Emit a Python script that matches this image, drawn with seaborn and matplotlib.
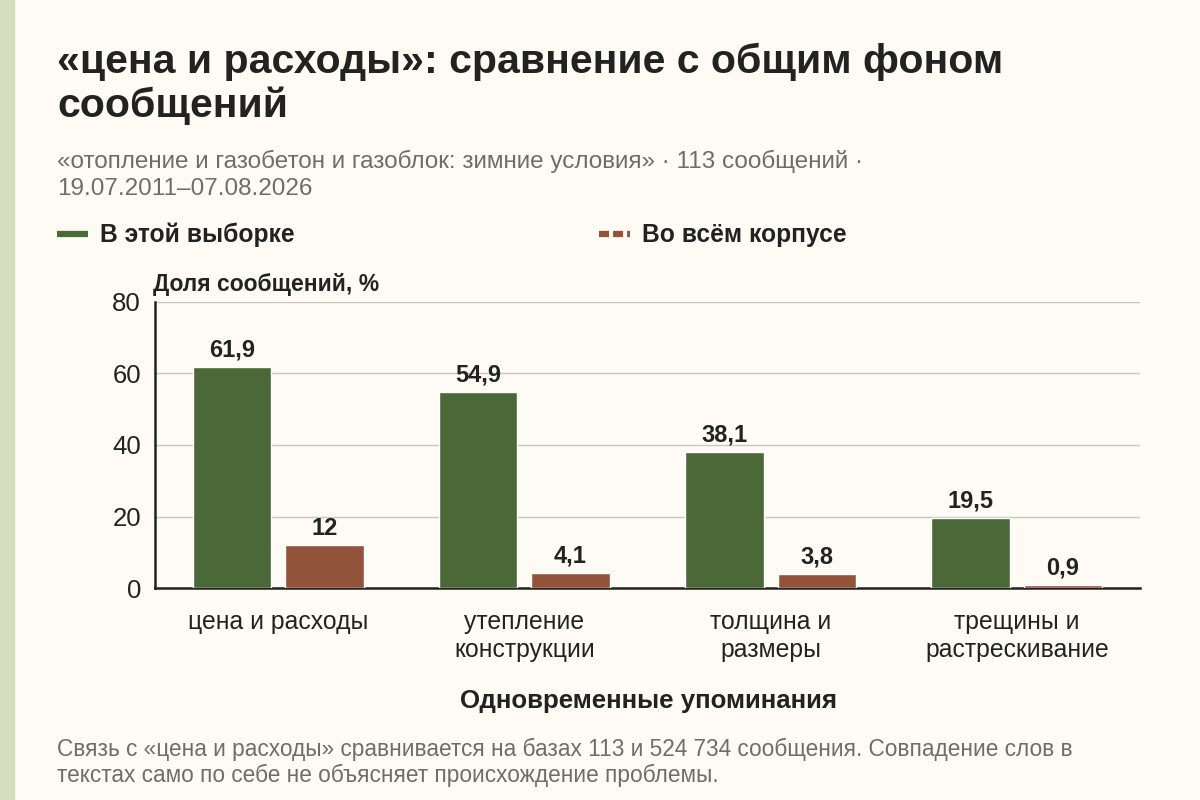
import matplotlib
matplotlib.use("Agg")
import matplotlib.pyplot as plt
import seaborn as sns
import pandas as pd
from matplotlib.lines import Line2D
from matplotlib.patches import Rectangle

# ---- data ----
categories = ["цена и расходы", "утепление\nконструкции", "толщина и\nразмеры", "трещины и\nрастрескивание"]
series_names = ["В этой выборке", "Во всём корпусе"]
sample_values = [61.9, 54.9, 38.1, 19.5]
corpus_values = [12.0, 4.1, 3.8, 0.9]
y_ticks = [0, 20, 40, 60, 80]

title = "«цена и расходы»: сравнение с общим фоном\nсообщений"
subtitle = "«отопление и газобетон и газоблок: зимние условия» · 113 сообщений ·\n19.07.2011–07.08.2026"
y_title = "Доля сообщений, %"
x_title = "Одновременные упоминания"
footer = ("Связь с «цена и расходы» сравнивается на базах 113 и 524 734 сообщения. Совпадение слов в\n"
          "текстах само по себе не объясняет происхождение проблемы.")

GREEN = "#4b6839"
BROWN = "#93523a"
BG = "#fdfbf3"
STRIP = "#d5dfc0"
DARK = "#222222"
GRAY = "#6e6e68"

df = pd.DataFrame({
    "cat": categories * 2,
    "series": [series_names[0]] * 4 + [series_names[1]] * 4,
    "val": sample_values + corpus_values,
})

sns.set_theme(style="white")
plt.rcParams["font.family"] = ["Liberation Sans", "DejaVu Sans"]

fig = plt.figure(figsize=(12, 8), dpi=100, facecolor=BG)
ax = fig.add_axes([155/1200, 1-588/800, (1140-155)/1200, (588-302)/800])
ax.set_facecolor(BG)

# left strip
fig.add_artist(Rectangle((0, 0), 14/1200, 1, transform=fig.transFigure, color=STRIP, zorder=0))

sns.barplot(data=df, x="cat", y="val", hue="series", order=categories,
            hue_order=series_names, palette=[GREEN, BROWN], width=0.75, gap=0.15,
            saturation=1, legend=False, ax=ax, zorder=3)

def fmt(v):
    s = f"{v:.1f}"
    if s.endswith(".0"):
        s = s[:-2]
    return s.replace(".", ",")

for cont in ax.containers:
    ax.bar_label(cont, labels=[fmt(b.get_height()) for b in cont], padding=4,
                 fontsize=17, fontweight="bold", color=DARK)

ax.set_ylim(0, 80)
ax.set_xlim(-0.5, 3.5)
ax.set_yticks(y_ticks)
ax.set_yticklabels([str(t) for t in y_ticks], fontsize=18.5, color=DARK)
ax.yaxis.grid(True, color="#c8c8c0", linewidth=1, zorder=0)
ax.set_axisbelow(True)
ax.tick_params(axis="y", length=0, pad=10)
ax.tick_params(axis="x", length=5, width=1, color=DARK, direction="out", pad=11,
               labelsize=17.8, labelcolor=DARK)
plt.setp(ax.get_xticklabels(), linespacing=1.22)
for s in ["top", "right"]:
    ax.spines[s].set_visible(False)
for s in ["left", "bottom"]:
    ax.spines[s].set_color(DARK)
    ax.spines[s].set_linewidth(1.8)
ax.set_xlabel("")
ax.set_ylabel("")

# texts
fig.text(57/1200, 1-43/800, title, fontsize=29.5, fontweight="bold", color=DARK,
         va="top", ha="left", linespacing=1.17)
fig.text(57/1200, 1-150/800, subtitle, fontsize=17.5, color=GRAY, va="top", ha="left",
         linespacing=1.26)
fig.text(153/1200, 1-285/800, y_title, fontsize=16.5, fontweight="bold", color=DARK,
         va="center", ha="left")
fig.text(648/1200, 1-701/800, x_title, fontsize=18.6, fontweight="bold", color=DARK,
         va="center", ha="center")
fig.text(57/1200, 1-738/800, footer, fontsize=16.3, color=GRAY, va="top", ha="left",
         linespacing=1.12)

# legend
handles = [Line2D([0], [0], color=GREEN, lw=4.5, solid_capstyle="butt"),
           Line2D([0], [0], color=BROWN, lw=4.5, linestyle=(0, (1.6, 0.65)),
                  dash_capstyle="butt")]
leg = fig.legend(handles, series_names, loc="center left",
                 bbox_to_anchor=(57/1200, 1-235/800), ncol=2, frameon=False,
                 prop={"size": 17.7, "weight": "bold"}, handlelength=1.25,
                 handletextpad=0.5, columnspacing=12.4, labelcolor=DARK,
                 borderaxespad=0, borderpad=0)

fig.savefig("out.png", dpi=100, facecolor=BG)
